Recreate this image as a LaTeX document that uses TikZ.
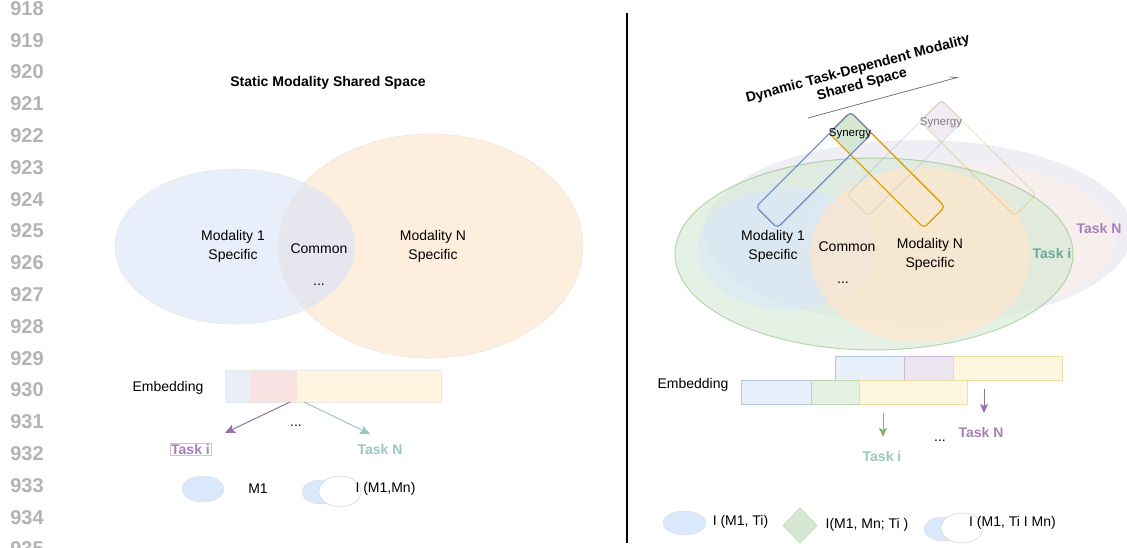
\documentclass[tikz,border=0pt]{standalone}
\usepackage{fontspec}
\setmainfont{Liberation Sans}
\usetikzlibrary{arrows.meta}
\definecolor{lnum}{HTML}{B3B3B3}
\definecolor{blueL}{HTML}{E8EFFB}
\definecolor{orangeL}{HTML}{FEEEDE}
\definecolor{commonL}{HTML}{E6E7EE}
\definecolor{bblue}{HTML}{E8EFFA}
\definecolor{bpink}{HTML}{F9E2E2}
\definecolor{byellow}{HTML}{FFF5E1}
\definecolor{dblue}{HTML}{6C8EBF}
\definecolor{dgold}{HTML}{D79B00}
\definecolor{dgreen}{HTML}{82B366}
\definecolor{fgreen}{HTML}{D5E8D4}
\definecolor{fblue}{HTML}{DAE8FC}
\definecolor{forange}{HTML}{FFE6CC}
\definecolor{flav}{HTML}{E1D5E7}
\definecolor{lavbg}{HTML}{EFEEF5}
\definecolor{pinkbg}{HTML}{F7EFEE}
\definecolor{tpurple}{HTML}{A680B8}
\definecolor{apurple}{HTML}{9673A6}
\definecolor{tteal}{HTML}{9AC7BF}
\definecolor{tteald}{HTML}{67AB9F}
\definecolor{sblue}{HTML}{B3C6E3}
\definecolor{slav}{HTML}{C9BAD7}
\definecolor{syellow}{HTML}{EEDCA6}
\definecolor{sgreen}{HTML}{BCD8B2}
\definecolor{rblue}{HTML}{E8F0FC}
\definecolor{rlav}{HTML}{ECE6F0}
\definecolor{ryellow}{HTML}{FFF6DF}
\definecolor{rgreen}{HTML}{E6F1E4}
\begin{document}
\begin{tikzpicture}[x=1pt,y=-1pt,
  lbl/.style={font=\fontsize{14}{19}\selectfont, align=center, inner sep=0pt, text=black},
  bld/.style={font=\fontsize{14}{16}\selectfont\bfseries, inner sep=0pt},
  lnumst/.style={font=\fontsize{20}{22}\selectfont\bfseries, text=lnum, inner sep=0pt},
  syn/.style={font=\fontsize{11.5}{13}\selectfont, inner sep=0pt},
  faint/.style={draw=black!9, line width=0.6pt},
  tarrow/.style={line width=1pt, -{Stealth[length=10pt,width=9pt,inset=2pt]}},
  darrow/.style={line width=1pt, -{Stealth[length=9pt,width=8pt,inset=2pt]}}
]
\useasboundingbox (0,0) rectangle (1127,548);

% line numbers
\foreach \n [count=\i from 0] in {918,...,935}
  \node[lnumst] (ln\n) at (27,{8.5+31.8*\i}) {\n};

% divider
\coordinate (divtop) at (627,13);
\coordinate (divbot) at (627,543);
\draw[line width=1.3pt] (divtop) -- (divbot);

%% ---------------- LEFT PANEL ----------------
\node[bld] (stitle) at (328,83) {Static Modality Shared Space};

\fill[blueL] (235,246.5) ellipse [x radius=120, y radius=77.5];
\fill[orangeL] (430.5,246) ellipse [x radius=152.5, y radius=112];
\begin{scope}
  \clip (235,246.5) ellipse [x radius=120, y radius=77.5];
  \fill[commonL] (430.5,246) ellipse [x radius=152.5, y radius=112];
\end{scope}
\draw[faint] (235,246.5) ellipse [x radius=120, y radius=77.5];
\draw[faint] (430.5,246) ellipse [x radius=152.5, y radius=112];

\node[lbl] (m1s) at (233,246.5) {Modality 1\\Specific};
\node[lbl] (com) at (319,249) {Common};
\node[lbl] (dotsL) at (319,285) {...};
\node[lbl] (mns) at (433,246.5) {Modality N\\Specific};

% embedding bar
\node[lbl] (embL) at (168,388) {Embedding};
\fill[bblue] (225,370) rectangle (250,402);
\fill[bpink] (250,370) rectangle (297,402);
\fill[byellow] (297,370) rectangle (441,402);
\draw[faint] (225,370) rectangle (441,402);

\coordinate (eL1) at (290,402);
\coordinate (eL2) at (304,402);
\coordinate (aL1) at (225,433);
\coordinate (aL2) at (370,434);
\draw[tarrow, apurple] (eL1) -- (aL1);
\draw[tarrow, tteal] (eL2) -- (aL2);
\node[lbl] (dotsL2) at (296,426) {...};
\node[bld, text=tpurple, draw=black!22, line width=0.5pt, inner sep=1pt] (taskiL) at (190.5,449) {Task i};
\node[bld, text=tteal] (tasknL) at (380,449) {Task N};

% legend left
\filldraw[fill=fblue, draw=black!12, line width=0.5pt] (203,489) ellipse [x radius=21, y radius=13];
\node[lbl] (legM1) at (258,489) {M1};
\filldraw[fill=fblue, draw=black!12, line width=0.5pt] (321,492) ellipse [x radius=19, y radius=12];
\filldraw[fill=white, draw=black!18, line width=0.5pt] (340,491.5) ellipse [x radius=21, y radius=15.5];
\node[lbl] (legI) at (385.5,489) {I (M1,Mn)};

%% ---------------- RIGHT PANEL ----------------
\node[bld, rotate=15, align=center] (dtitle) at (860,77) {Dynamic Task-Dependent Modality\\Shared Space};
\coordinate (tarS) at (808,118);
\coordinate (tarE) at (959,77);
\draw[black!60, line width=0.7pt, -{Straight Barb[left,length=7pt,width=5pt]}] (tarS) -- (tarE);

% background ellipses
\fill[lavbg] (918,232) ellipse [x radius=214, y radius=92];
\fill[pinkbg] (960,238) ellipse [x radius=156, y radius=75];
\fill[fgreen, fill opacity=0.6] (874,254) ellipse [x radius=199, y radius=96];
\draw[dgreen, draw opacity=0.5, line width=1pt] (874,254) ellipse [x radius=199, y radius=96];
\fill[fblue, fill opacity=0.6] (787,249) ellipse [x radius=90, y radius=61];
\fill[forange, fill opacity=0.7] (920,255) ellipse [x radius=110, y radius=87];

% faded synergy pair
\begin{scope}
  \clip[shift={(905,158)}, rotate=45, rounded corners=4pt] (-67,-15) rectangle (67,15);
  \fill[flav, fill opacity=0.45, shift={(978,158)}, rotate=-45, rounded corners=4pt] (-67,-15) rectangle (67,15);
\end{scope}
\draw[dblue, draw opacity=0.22, line width=1pt, shift={(905,158)}, rotate=45, rounded corners=4pt] (-67,-15) rectangle (67,15);
\draw[dgold, draw opacity=0.28, line width=1pt, shift={(978,158)}, rotate=-45, rounded corners=4pt] (-67,-15) rectangle (67,15);
\node[syn, text=black!50] (syn2) at (941,123) {Synergy};

% main synergy pair
\begin{scope}
  \clip[shift={(814,170)}, rotate=45, rounded corners=4pt] (-67,-15) rectangle (67,15);
  \fill[fgreen, shift={(887,170)}, rotate=-45, rounded corners=4pt] (-67,-15) rectangle (67,15);
\end{scope}
\draw[dgold, line width=1.1pt, shift={(887,170)}, rotate=-45, rounded corners=4pt] (-67,-15) rectangle (67,15);
\draw[dblue, line width=1.1pt, shift={(814,170)}, rotate=45, rounded corners=4pt] (-67,-15) rectangle (67,15);
\node[syn] (syn1) at (850,134) {Synergy};

\node[lbl] (rm1) at (773,246.5) {Modality 1\\Specific};
\node[lbl] (rcom) at (847,247) {Common};
\node[lbl] (rdots) at (843,283) {...};
\node[lbl] (rmn) at (930,254.5) {Modality N\\Specific};
\node[bld, text=tteald] (rtaski) at (1052,253) {Task i};
\node[bld, text=tpurple] (rtaskn) at (1099,228) {Task N};

% embedding right
\node[lbl] (embR) at (693,385) {Embedding};
\filldraw[fill=rblue, draw=sblue, line width=0.8pt] (835,356) rectangle (904,380);
\filldraw[fill=rlav, draw=slav, line width=0.8pt] (904,356) rectangle (953,380);
\filldraw[fill=ryellow, draw=syellow, line width=0.8pt] (953,356) rectangle (1062,380);
\filldraw[fill=rblue, draw=sblue, line width=0.8pt] (741,380) rectangle (811,404);
\filldraw[fill=rgreen, draw=sgreen, line width=0.8pt] (811,380) rectangle (859,404);
\filldraw[fill=ryellow, draw=syellow, line width=0.8pt] (859,380) rectangle (967,404);

\coordinate (gS) at (883,413);
\coordinate (gE) at (883,437);
\coordinate (pS) at (984,389);
\coordinate (pE) at (984,413);
\draw[darrow, dgreen] (gS) -- (gE);
\draw[darrow, apurple] (pS) -- (pE);
\node[bld, text=tpurple] (rtaskn2) at (981,432) {Task N};
\node[lbl] (rdots2) at (940,441) {...};
\node[bld, text=tteal] (rtaski2) at (882,456) {Task i};

% legend right
\filldraw[fill=fblue, draw=black!12, line width=0.5pt] (684.5,523) ellipse [x radius=21.5, y radius=12];
\node[lbl] (lg1) at (740.5,522) {I (M1, Ti)};
\filldraw[fill=fgreen, draw=sgreen, line width=0.6pt] (800,508) -- (817,525.5) -- (800,543) -- (783,525.5) -- cycle;
\node[lbl] (lg2) at (867,525) {I(M1, Mn; Ti )};
\filldraw[fill=fblue, draw=black!12, line width=0.5pt] (943.5,529) ellipse [x radius=19.5, y radius=12];
\filldraw[fill=white, draw=black!18, line width=0.5pt] (962,528) ellipse [x radius=21, y radius=15];
\node[lbl] (lg3) at (1012.5,523) {I (M1, Ti I Mn)};
\end{tikzpicture}
\end{document}
